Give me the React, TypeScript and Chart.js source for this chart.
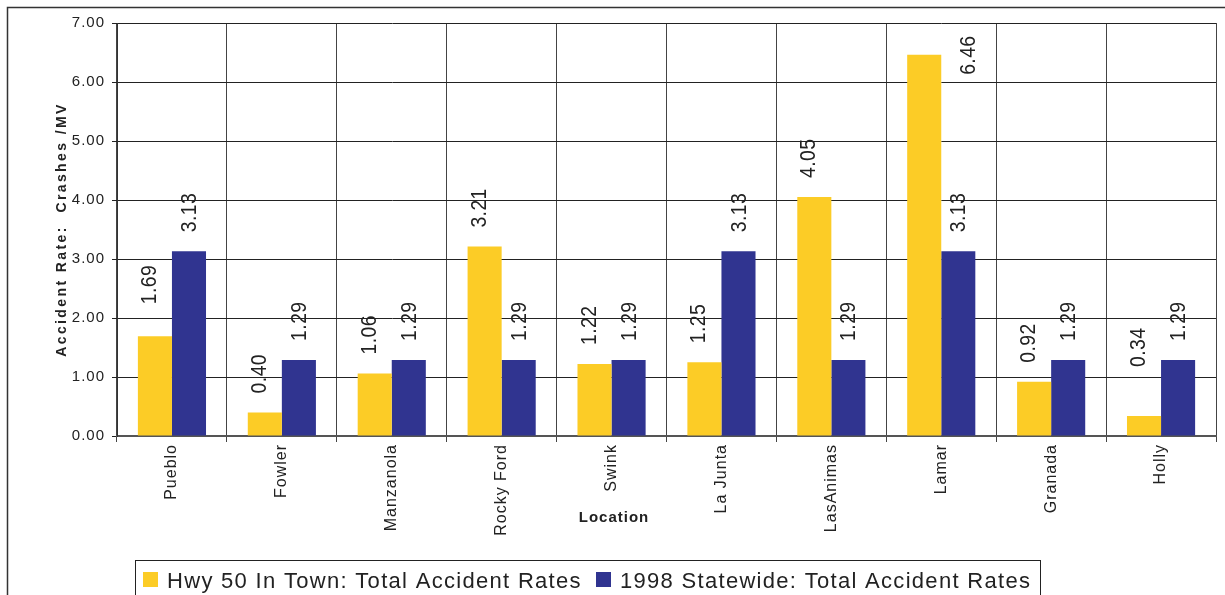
import React, { useEffect, useRef } from "react";
import { Chart, registerables } from "chart.js";

Chart.register(...registerables);

// Accident rates per location (crashes per million vehicles)
const locations = [
  "Pueblo",
  "Fowler",
  "Manzanola",
  "Rocky Ford",
  "Swink",
  "La Junta",
  "LasAnimas",
  "Lamar",
  "Granada",
  "Holly",
];
const hwy50InTownRates = [1.69, 0.4, 1.06, 3.21, 1.22, 1.25, 4.05, 6.46, 0.92, 0.34];
const statewideRates = [3.13, 1.29, 1.29, 1.29, 1.29, 3.13, 1.29, 3.13, 1.29, 1.29];
const seriesNames = [
  "Hwy 50 In Town: Total Accident Rates",
  "1998 Statewide: Total Accident Rates",
];
const yMin = 0;
const yMax = 7;
const yStep = 1;

const FONT = "'Liberation Sans', Arial, Helvetica, sans-serif";
const TEXT = "#222222";
const YELLOW = "#FCCC26";
const BLUE = "#303490";

// Value label placement: gap above the bar, per-series horizontal shift,
// and a few hand-placed labels.
const LABEL_GAP = 19;
const seriesLabelDx = [-5, 1];
const labelNudges: Record<string, { dx: number; dy: number }> = {
  "0-0": { dx: 0, dy: -13 },
  "0-7": { dx: 50, dy: 39 },
  "0-9": { dx: 0, dy: -30 },
};

const decorations = {
  id: "decorations",
  beforeDraw(chart: any) {
    chart.ctx.letterSpacing = "1px";
  },
  afterDatasetsDraw(chart: any) {
    const ctx: CanvasRenderingContext2D = chart.ctx;
    chart.data.datasets.forEach((ds: any, di: number) => {
      const meta = chart.getDatasetMeta(di);
      meta.data.forEach((bar: any, i: number) => {
        const v = ds.data[i] as number;
        const n = labelNudges[`${di}-${i}`] || { dx: 0, dy: 0 };
        const x = bar.x + seriesLabelDx[di] + n.dx;
        const y = bar.y - LABEL_GAP + n.dy;
        ctx.save();
        ctx.translate(x, y);
        ctx.rotate(-Math.PI / 2);
        ctx.scale(0.88, 1);
        ctx.font = `22px ${FONT}`;
        ctx.letterSpacing = "0.5px";
        ctx.fillStyle = TEXT;
        ctx.textAlign = "left";
        ctx.textBaseline = "middle";
        ctx.fillText(v.toFixed(2), 0, 0);
        ctx.restore();
      });
    });
  },
  afterDraw(chart: any) {
    const ctx: CanvasRenderingContext2D = chart.ctx;
    const area = chart.chartArea;

    // outer frame
    ctx.save();
    ctx.strokeStyle = "#333333";
    ctx.lineWidth = 1.5;
    ctx.beginPath();
    ctx.moveTo(7.5, 610);
    ctx.lineTo(7.5, 7.5);
    ctx.lineTo(1240, 7.5);
    ctx.stroke();
    ctx.restore();

    // y axis title
    ctx.save();
    ctx.translate(62, (area.top + area.bottom) / 2);
    ctx.rotate(-Math.PI / 2);
    ctx.font = `bold 14px ${FONT}`;
    ctx.letterSpacing = "2.4px";
    ctx.fillStyle = TEXT;
    ctx.textAlign = "center";
    ctx.textBaseline = "middle";
    ctx.fillText("Accident Rate:  Crashes /MV", 0, 0);
    ctx.restore();

    // x axis title
    ctx.save();
    ctx.font = `bold 15px ${FONT}`;
    ctx.letterSpacing = "1px";
    ctx.fillStyle = TEXT;
    ctx.textAlign = "center";
    ctx.textBaseline = "middle";
    ctx.fillText("Location", 614, 518);
    ctx.restore();

    // legend box
    ctx.save();
    ctx.fillStyle = "#ffffff";
    ctx.fillRect(135, 560, 905, 60);
    ctx.strokeStyle = "#222222";
    ctx.lineWidth = 1;
    ctx.strokeRect(135.5, 560.5, 905, 60);
    const colors = [YELLOW, BLUE];
    const swatchX = [143, 596];
    ctx.font = `22px ${FONT}`;
    ctx.letterSpacing = "1.3px";
    ctx.textAlign = "left";
    ctx.textBaseline = "alphabetic";
    seriesNames.forEach((name, k) => {
      ctx.fillStyle = colors[k];
      ctx.fillRect(swatchX[k], 572, 15, 15);
      ctx.fillStyle = TEXT;
      ctx.fillText(name, swatchX[k] + 24, 588);
    });
    ctx.restore();
  },
};

export default function App() {
  const canvasRef = useRef<HTMLCanvasElement | null>(null);

  useEffect(() => {
    const canvas = canvasRef.current;
    if (!canvas) return;
    const chart = new Chart(canvas, {
      type: "bar",
      data: {
        labels: locations,
        datasets: [
          {
            label: seriesNames[0],
            data: hwy50InTownRates,
            backgroundColor: YELLOW,
            borderWidth: 0,
            categoryPercentage: 0.62,
            barPercentage: 1,
          },
          {
            label: seriesNames[1],
            data: statewideRates,
            backgroundColor: BLUE,
            borderWidth: 0,
            categoryPercentage: 0.62,
            barPercentage: 1,
          },
        ],
      },
      options: {
        responsive: false,
        animation: false,
        devicePixelRatio: 1,
        layout: { padding: { left: 0, top: 23, right: 9, bottom: 0 } },
        plugins: {
          legend: { display: false },
          title: { display: false },
          tooltip: { enabled: false },
        },
        scales: {
          x: {
            offset: true,
            grid: {
              offset: true,
              color: "#444444",
              lineWidth: 1,
              tickLength: 6,
              drawOnChartArea: true,
            },
            border: { color: "#555555", width: 2 },
            ticks: {
              autoSkip: false,
              maxRotation: 90,
              minRotation: 90,
              padding: 2,
              color: TEXT,
              font: { family: FONT, size: 16 },
            },
            afterFit(scale: any) {
              scale.height = 159;
            },
          },
          y: {
            min: yMin,
            max: yMax,
            ticks: {
              stepSize: yStep,
              padding: 7,
              color: TEXT,
              font: { family: FONT, size: 15 },
              callback: (v: any) => Number(v).toFixed(2),
            },
            grid: { color: "#222222", lineWidth: 1, tickLength: 5 },
            border: { color: "#333333", width: 1 },
            afterFit(scale: any) {
              scale.width = 117;
            },
          },
        },
      },
      plugins: [decorations],
    });
    return () => chart.destroy();
  }, []);

  return (
    <div
      style={{
        position: "fixed",
        left: 0,
        top: 0,
        width: 1225,
        height: 595,
        background: "#ffffff",
      }}
    >
      <canvas ref={canvasRef} width={1225} height={595} />
    </div>
  );
}
